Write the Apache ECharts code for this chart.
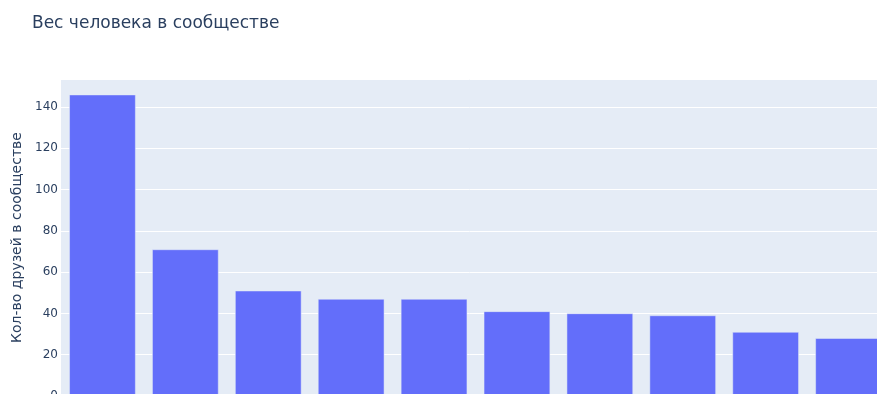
<!DOCTYPE html>
<html>
<head>
<meta charset="utf-8">
<script src="https://cdn.jsdelivr.net/npm/echarts@6/dist/echarts.min.js"></script>
<style>
    html, body { margin: 0; padding: 0; background: #fff; }
    #chart { width: 877px; height: 394px; }
</style>
</head>
<body>
<div id="chart"></div>
<script>
// подписи по оси X в кадр не попадают
const categories = ['1', '2', '3', '4', '5', '6', '7', '8', '9', '10'];
const friends = [146, 71, 51, 47, 47, 41, 40, 39, 31, 28];
const yTicks = [0, 20, 40, 60, 80, 100, 120, 140];

(function () {
    const myChart = echarts.init(document.getElementById('chart'));
    const font = '"DejaVu Sans", verdana, arial, sans-serif';

    const option = {
        animation: false,
        title: {
            text: 'Вес человека в сообществе',
            left: 27,
            top: 10,
            textStyle: {
                fontFamily: font,
                fontSize: 17,
                fontWeight: 'normal',
                color: '#2a3f5f'
            }
        },
        grid: {
            left: 61,
            top: 79,
            width: 829,
            height: 317,
            outerBoundsMode: 'none',
            show: true,
            backgroundColor: '#E5ECF6',
            borderWidth: 0,
            containLabel: false
        },
        xAxis: {
            type: 'category',
            data: categories,
            axisLine: { show: false },
            axisTick: { show: false },
            axisLabel: { show: false }
        },
        yAxis: {
            type: 'value',
            min: yTicks[0],
            max: 153.6,
            interval: 20,
            name: 'Кол-во друзей в сообществе',
            nameLocation: 'middle',
            nameGap: 36,
            nameTextStyle: {
                fontFamily: font,
                fontSize: 14,
                color: '#2a3f5f'
            },
            axisLine: { show: false },
            axisTick: { show: false },
            axisLabel: {
                showMaxLabel: false,
                margin: 3,
                fontFamily: font,
                fontSize: 12,
                color: '#2a3f5f',
                formatter: function (v) {
                    return yTicks.indexOf(v) >= 0 ? String(v) : '';
                }
            },
            splitLine: {
                lineStyle: { color: '#ffffff', width: 1 }
            }
        },
        series: [
            {
                type: 'bar',
                data: friends,
                barCategoryGap: '20%',
                itemStyle: {
                    color: '#636EFA',
                    borderColor: '#E5ECF6',
                    borderWidth: 0.5
                }
            }
        ]
    };

    myChart.setOption(option);
    window.addEventListener('resize', function () {
        myChart.resize();
    });
})();
</script>
</body>
</html>
